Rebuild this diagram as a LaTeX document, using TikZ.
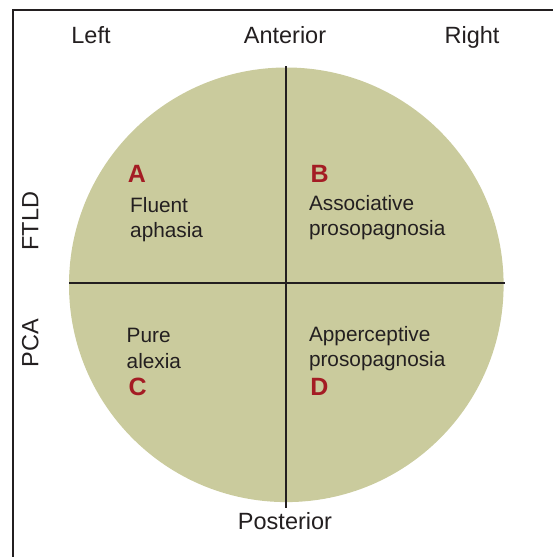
\documentclass[tikz,border=0pt]{standalone}
\usepackage{fontspec}
\setmainfont{Liberation Sans}
\definecolor{lobe}{RGB}{202,203,157}
\definecolor{quadred}{RGB}{164,28,36}
\definecolor{ink}{RGB}{35,31,32}

\begin{document}
\begin{tikzpicture}[x=1pt,y=1pt,line width=2pt,
    axis/.style={font=\fontsize{23.5}{28}\selectfont,text=ink,inner sep=0pt,anchor=base},
    quad/.style={font=\fontsize{25}{30}\selectfont\bfseries,text=quadred,inner sep=0pt,anchor=base},
    sym/.style={font=\fontsize{20.8}{25}\selectfont,text=ink,inner sep=0pt,anchor=base west}]
  \useasboundingbox (0,0) rectangle (553,557);
  \draw[ink,line width=2.3pt] (12.8,0) -- (12.8,547) -- (553,547);

  \node[circle,fill=lobe,inner sep=0pt,minimum size=434.6pt] (brain) at (286.3,272.2) {};
  \coordinate (post) at (286.3,48.5);
  \coordinate (lft) at (69,274.3);
  \coordinate (rgt) at (505,274.3);
  \draw[ink] (brain.north) -- (post);
  \draw[ink] (lft) -- (rgt);

  \node[axis] (left) at (91,513) {Left};
  \node[axis] (anterior) at (285,513) {Anterior};
  \node[axis] (right) at (472,513) {Right};
  \node[axis] (posterior) at (285,27.5) {Posterior};
  \node[axis,rotate=90] (ftld) at (38.3,335.7) {FTLD};
  \node[axis,rotate=90] (pca) at (38.3,213.7) {PCA};

  \node[quad] (qa) at (137,374.7) {A};
  \node[quad] (qb) at (319.7,374.7) {B};
  \node[quad] (qc) at (137.7,161.3) {C};
  \node[quad] (qd) at (319.5,161.3) {D};

  \node[sym] (fluent) at (129.2,344.3) {Fluent};
  \node[sym] (aphasia) at (129.2,319.7) {aphasia};
  \node[sym] (assoc) at (308,346) {Associative};
  \node[sym] (prosob) at (308,321) {prosopagnosia};
  \node[sym] (pure) at (125.7,214.3) {Pure};
  \node[sym] (alexia) at (125.7,188.7) {alexia};
  \node[sym] (apper) at (308,215.3) {Apperceptive};
  \node[sym] (prosod) at (308,190.3) {prosopagnosia};
\end{tikzpicture}
\end{document}
